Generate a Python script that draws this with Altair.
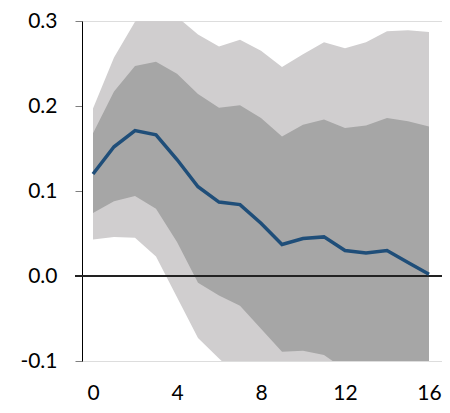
import altair as alt
import pandas as pd

horizon = list(range(17))
median = [0.120, 0.152, 0.171, 0.166, 0.137, 0.105, 0.087, 0.084, 0.062, 0.037, 0.044, 0.046, 0.030, 0.027, 0.030, 0.016, 0.002]
inner_high = [0.168, 0.217, 0.247, 0.252, 0.238, 0.214, 0.198, 0.201, 0.186, 0.164, 0.178, 0.184, 0.174, 0.177, 0.186, 0.182, 0.176]
inner_low = [0.074, 0.088, 0.094, 0.079, 0.040, -0.008, -0.023, -0.035, -0.062, -0.089, -0.088, -0.093, -0.110, -0.115, -0.118, -0.115, -0.120]
outer_high = [0.197, 0.257, 0.299, 0.320, 0.305, 0.284, 0.270, 0.278, 0.265, 0.246, 0.261, 0.275, 0.268, 0.275, 0.288, 0.289, 0.287]
outer_low = [0.043, 0.046, 0.045, 0.023, -0.025, -0.073, -0.097, -0.120, -0.150, -0.170, -0.170, -0.175, -0.180, -0.180, -0.185, -0.185, -0.190]

df = pd.DataFrame({
    "h": horizon, "m": median,
    "ih": inner_high, "il": inner_low,
    "oh": outer_high, "ol": outer_low,
})

W, H = 360, 340
font = "Lato"

xs = alt.Scale(domain=[-0.5238, 16.619], nice=False, zero=False)
ys = alt.Scale(domain=[-0.1, 0.3], nice=False, zero=False)

x_enc = alt.X("h:Q", scale=xs, axis=alt.Axis(
    values=[0, 4, 8, 12, 16], domain=False, ticks=False, grid=False,
    labelFont=font, labelFontSize=21, labelColor="#000000", labelPadding=21,
    title=None, format="d"))
y_axis = alt.Axis(
    values=[-0.1, 0, 0.1, 0.2, 0.3], grid=False, domain=True, domainColor="#000000",
    domainWidth=1, ticks=True, tickSize=7, tickColor="#7f7f7f", tickWidth=1,
    labelFont=font, labelFontSize=21, labelColor="#000000", labelPadding=18,
    labelExpr="datum.value < 0 ? '-' + format(-datum.value, '.1f') : format(datum.value, '.1f')",
    title=None)

base = alt.Chart(df)

outer = base.mark_area(color="#D0CECF", clip=True).encode(
    x=x_enc, y=alt.Y("ol:Q", scale=ys, axis=y_axis), y2="oh:Q")
inner = base.mark_area(color="#A6A6A6", clip=True).encode(
    x="h:Q", y="il:Q", y2="ih:Q")
zero = base.mark_rule(color="#222222", strokeWidth=1).encode(
    x=alt.value(-7), x2=alt.value(W), y=alt.datum(0))
line = base.mark_line(color="#1F4E79", strokeWidth=3.5, clip=True).encode(
    x="h:Q", y="m:Q")

chart = alt.layer(outer, inner, zero, line).properties(
    width=W, height=H,
    autosize=alt.AutoSizeParams(type="none"),
    padding={"left": 74, "top": 13, "right": 0, "bottom": 44},
).configure_view(stroke=None).configure(background="#ffffff")

chart.save("out.html", embed_options={"renderer": "svg", "actions": False})
